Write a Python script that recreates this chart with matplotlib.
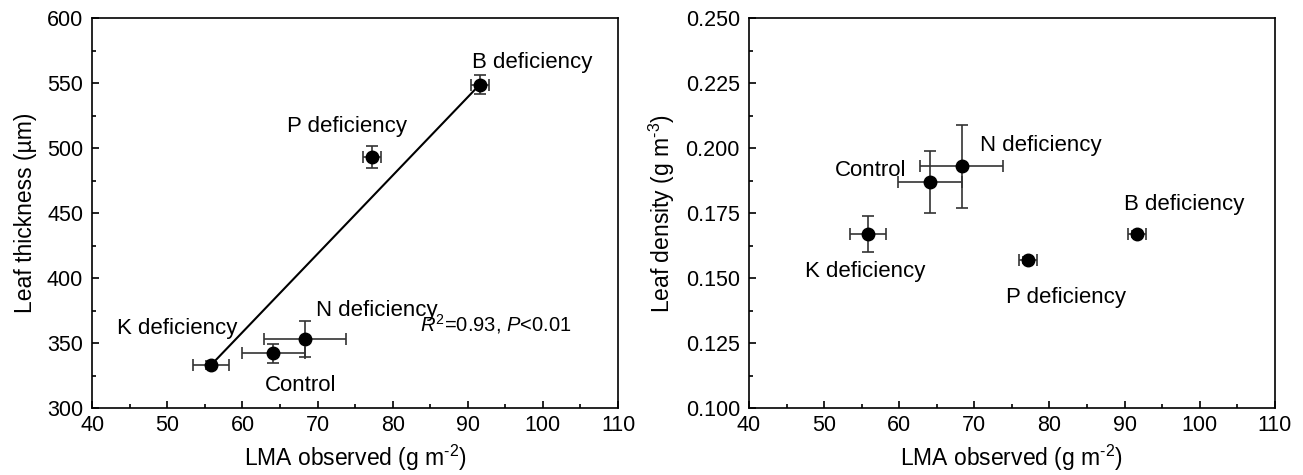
import matplotlib
matplotlib.use("Agg")
import matplotlib.pyplot as plt
from matplotlib.ticker import MultipleLocator, FormatStrFormatter

plt.rcParams['font.family'] = ['Liberation Sans', 'DejaVu Sans']
plt.rcParams['mathtext.fontset'] = 'custom'
plt.rcParams['mathtext.rm'] = 'Liberation Sans'
plt.rcParams['mathtext.it'] = 'Liberation Sans:italic'

# ---- data ----
treatments = ["Control", "N deficiency", "P deficiency", "K deficiency", "B deficiency"]
lma = [64.1, 68.3, 77.2, 55.8, 91.6]
lma_err = [4.2, 5.5, 1.2, 2.4, 1.2]
thickness = [342, 353, 493, 333, 549]
thickness_err = [7, 14, 8.5, 3, 7]
density = [0.187, 0.193, 0.157, 0.167, 0.167]
density_err = [0.012, 0.016, 0.001, 0.007, 0.001]

fit_x = [55.8, 91.6]
fit_y = [333, 549]

# label anchor positions (data coords) and alignment
left_labels = {
    "Control": (67.8, 317, 'center'),
    "N deficiency": (69.8, 375, 'left'),
    "P deficiency": (65.9, 517, 'left'),
    "K deficiency": (59.3, 361, 'right'),
    "B deficiency": (90.5, 566, 'left'),
}
right_labels = {
    "Control": (60.9, 0.1913, 'right'),
    "N deficiency": (70.7, 0.2009, 'left'),
    "P deficiency": (74.2, 0.1424, 'left'),
    "K deficiency": (47.4, 0.1526, 'left'),
    "B deficiency": (89.9, 0.1782, 'left'),
}

fs_ann = 16
fs_tick = 15.5
fs_lab = 16.5
fig = plt.figure(figsize=(13.03, 4.75), dpi=100)
ax1 = fig.add_axes([0.0708, 0.141, 0.4035, 0.8205])
ax2 = fig.add_axes([0.5748, 0.141, 0.4035, 0.8205])

err_kw = dict(fmt='o', color='black', ecolor='#333333', elinewidth=1.2,
              capsize=4, capthick=1.2, markersize=9, linestyle='none')

ax1.plot(fit_x, fit_y, color='black', lw=1.5, zorder=1)
ax1.errorbar(lma, thickness, xerr=lma_err, yerr=thickness_err, zorder=3, **err_kw)
for name, (x, y, ha) in left_labels.items():
    ax1.text(x, y, name, ha=ha, va='center', fontsize=fs_ann)
ax1.text(83.6, 365, r"$R^2$=0.93, $P$<0.01", ha='left', va='center', fontsize=14.5)

ax2.errorbar(lma, density, xerr=lma_err, yerr=density_err, zorder=3, **err_kw)
for name, (x, y, ha) in right_labels.items():
    ax2.text(x, y, name, ha=ha, va='center', fontsize=fs_ann)

ax1.set_ylim(300, 600)
ax1.yaxis.set_major_locator(MultipleLocator(50))
ax1.yaxis.set_minor_locator(MultipleLocator(25))
ax1.set_ylabel("Leaf thickness (µm)", fontsize=fs_lab, labelpad=7.5)

ax2.set_ylim(0.100, 0.250)
ax2.yaxis.set_major_locator(MultipleLocator(0.025))
ax2.yaxis.set_minor_locator(MultipleLocator(0.0125))
ax2.yaxis.set_major_formatter(FormatStrFormatter('%.3f'))
ax2.set_ylabel("Leaf density (g m$^{\u2010 3}$)".replace("\u2010 ", "\u2010"), fontsize=fs_lab, labelpad=6)

for ax in (ax1, ax2):
    ax.set_xlim(40, 110)
    ax.xaxis.set_major_locator(MultipleLocator(10))
    ax.xaxis.set_minor_locator(MultipleLocator(5))
    ax.set_xlabel("LMA observed (g m$^{\u20102}$)", fontsize=fs_lab, labelpad=5)
    ax.tick_params(which='both', direction='in', top=False, right=False,
                   labelsize=fs_tick, width=1.2)
    ax.tick_params(axis='y', which='major', length=5, pad=6.5)
    ax.tick_params(axis='x', which='major', length=5, pad=5)
    ax.tick_params(which='minor', length=3)
    for s in ax.spines.values():
        s.set_linewidth(1.2)

fig.savefig("out.png", dpi=100)
